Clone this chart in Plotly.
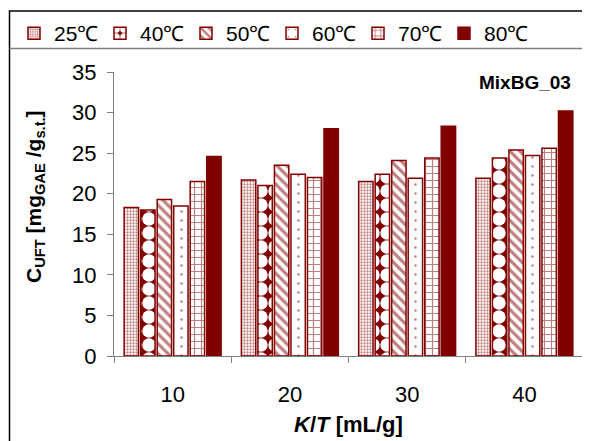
import plotly.graph_objects as go

categories = ["10", "20", "30", "40"]
series_names = ["25℃", "40℃", "50℃", "60℃", "70℃", "80℃"]
v25 = [18.3, 21.7, 21.5, 21.9]
v40 = [18.0, 21.0, 22.4, 24.4]
v50 = [19.3, 23.5, 24.1, 25.4]
v60 = [18.5, 22.4, 21.9, 24.7]
v70 = [21.5, 22.0, 24.4, 25.6]
v80 = [24.6, 28.0, 28.3, 30.2]
series_values = [v25, v40, v50, v60, v70, v80]

MAROON = "#800000"
patterns = [
    dict(shape=".", size=3, solidity=0.45, fgcolor=MAROON, bgcolor="white"),
    dict(shape=".", size=14, solidity=0.72, fgcolor="white", bgcolor=MAROON, fillmode="replace"),
    dict(shape="\\", size=7, solidity=0.45, fgcolor=MAROON, bgcolor="white"),
    dict(shape=".", size=9, solidity=0.06, fgcolor=MAROON, bgcolor="white"),
    dict(shape="+", size=7, solidity=0.3, fgcolor=MAROON, bgcolor="white"),
    dict(shape="", fgcolor=MAROON, bgcolor=MAROON),
]

FONT = "Liberation Sans, Arial, sans-serif"
fig = go.Figure()
for name, vals, pat in zip(series_names, series_values, patterns):
    fig.add_trace(go.Bar(
        x=categories, y=vals, name=name,
        marker=dict(color="white" if pat["shape"] else MAROON,
                    line=dict(color=MAROON, width=1.5),
                    pattern=pat),
    ))

# page body has an 8px margin; coordinates below are figure coordinates
W, H = 582, 433
L, R, T, B = 106, 7, 64, 85
pw, ph = W - L - R, H - T - B

def px(x):
    return (x - L) / pw

def py(y):
    return (H - B - y) / ph

fig.update_layout(
    width=W, height=H,
    margin=dict(l=L, r=R, t=T, b=B, autoexpand=False),
    paper_bgcolor="white", plot_bgcolor="white",
    font=dict(family=FONT, size=21, color="black"),
    barmode="group", bargap=0.155, bargroupgap=0.13,
    showlegend=True,
    legend=dict(orientation="h", xref="paper", yref="paper",
                x=px(6), y=py(5), xanchor="left", yanchor="top",
                entrywidth=41, entrywidthmode="pixels",
                font=dict(size=21), traceorder="normal",
                bgcolor="rgba(0,0,0,0)"),
    xaxis=dict(type="category", showline=True, linecolor="#808080", linewidth=1,
               ticks="outside", ticklen=6, tickcolor="#808080", tickson="boundaries",
               ticklabelstandoff=19, tickfont=dict(size=22),
               title=dict(text="<b><i>K</i>/<i>T</i> [mL/g]</b>", font=dict(size=22), standoff=10),
               showgrid=False, zeroline=False),
    yaxis=dict(range=[0, 35], dtick=5, showline=True, linecolor="#808080", linewidth=1,
               ticks="outside", ticklen=6, tickcolor="#808080",
               ticklabelstandoff=6, tickfont=dict(size=22),
               showgrid=False, zeroline=False),
    shapes=[
        dict(type="rect", xref="paper", yref="paper",
             x0=px(1.5), x1=px(620), y0=py(470), y1=py(3),
             line=dict(color="black", width=1.5), layer="below"),
        dict(type="line", xref="paper", yref="paper",
             x0=px(1.5), x1=px(620), y0=py(40.5), y1=py(40.5),
             line=dict(color="#808080", width=1.5)),
    ],
    annotations=[
        dict(text="<b>MixBG_03</b>", xref="paper", yref="paper",
             x=px(517), y=py(75), showarrow=False, font=dict(size=19),
             xanchor="center", yanchor="middle"),
        dict(text="<b>C<sub>UFT</sub> [mg<sub>GAE</sub> /g<sub>s.t.</sub>]</b>",
             xref="paper", yref="paper", x=px(27), y=py(189), textangle=-90,
             showarrow=False, font=dict(size=21), xanchor="center", yanchor="middle"),
    ],
)

fig.write_html("out.html")
